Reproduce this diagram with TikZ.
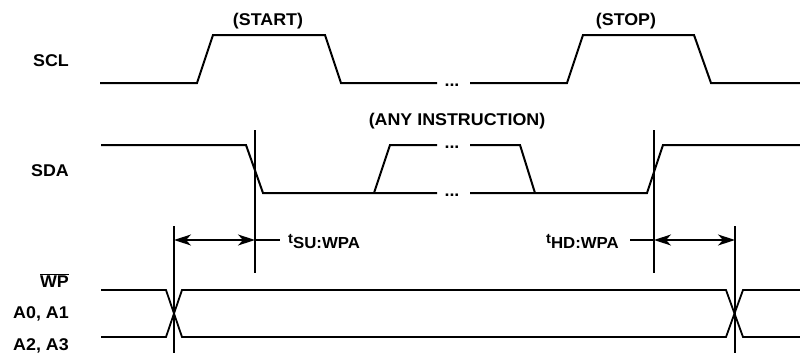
\documentclass[tikz,border=0pt]{standalone}
\usepackage{fontspec}
\setmainfont{Liberation Sans}
\newfontfamily\WideFont[FakeStretch=1.05]{Liberation Sans}
\usetikzlibrary{arrows.meta}
\newcommand{\Tip}{Stealth[length=17pt,width=11pt,inset=5pt]}
\newcommand{\Sub}[2]{{\fontsize{14}{14}\selectfont t}\raisebox{-5pt}{\fontsize{16}{16}\selectfont #1:#2}}
\tikzset{Signal/.style={
    line width=2pt,
    line join=miter,
    },
  Marker/.style={
    line width=1.3pt,
    },
  Dim/.style={
    line width=1.3pt,
    \Tip-\Tip,
    },
  Label/.style={
    inner sep=0pt,
    font=\WideFont\bfseries\fontsize{17}{20}\selectfont,
    },
}
\begin{document}
\begin{tikzpicture}[x=1pt,y=-1pt]
    \useasboundingbox (0,0) rectangle (800,356);
    % signal names
    \node [Label,anchor=base east] (scl) at (69,66) {SCL};
    \node [Label,anchor=base east] (sda) at (69,176) {SDA};
    \node [Label,anchor=base east] (wp) at (69,287) {$\overline{\hbox{WP}}$};
    \node [Label,anchor=base east] (a01) at (69,318) {A0, A1};
    \node [Label,anchor=base east] (a23) at (69,350) {A2, A3};
    \node [Label,anchor=base] (start) at (268,25) {(START)};
    \node [Label,anchor=base] (stop) at (626,25) {(STOP)};
    \node [Label,anchor=base] (anyinstr) at (457,125) {(ANY INSTRUCTION)};
    % SCL
    \draw [Signal] (100,83) -- (197,83) -- (213,35) -- (325,35) -- (341,83) -- (437,83);
    \draw [Signal] (470,83) -- (567,83) -- (583,35) -- (694,35) -- (711,83) -- (800,83);
    \node [Label,anchor=base] (sclDots) at (452,86) {...};
    % SDA
    \draw [Signal] (101,145) -- (246,145) -- (263,193) -- (437,193);
    \draw [Signal] (374,193) -- (390,145) -- (437,145);
    \draw [Signal] (470,145) -- (520,145) -- (535,193);
    \draw [Signal] (470,193) -- (647,193) -- (663,145) -- (800,145);
    \node [Label,anchor=base] (sdaDotsHi) at (452,148) {...};
    \node [Label,anchor=base] (sdaDotsLo) at (452,196) {...};
    % WP and address bus
    \draw [Signal,line width=1.8pt] (101,290) -- (166,290) -- (182,337) -- (726,337) -- (743,290) -- (800,290);
    \draw [Signal,line width=1.8pt] (101,337) -- (166,337) -- (182,290) -- (726,290) -- (743,337) -- (800,337);
    % timing markers
    \draw [Marker] (255,130) -- (255,273);
    \draw [Marker] (654,130) -- (654,273);
    \draw [Marker] (174,226) -- (174,353);
    \draw [Marker] (735,226) -- (735,353);
    \coordinate (suL) at (174,240); \coordinate (suR) at (255,240);
    \coordinate (hdL) at (654,240); \coordinate (hdR) at (735,240);
    \draw [Dim] (suL) -- (suR);
    \draw [Dim] (hdL) -- (hdR);
    \node [Label,anchor=base west] (tsu) at (288,243) {\Sub{SU}{WPA}};
    \node [Label,anchor=base east] (thd) at (619,243) {\Sub{HD}{WPA}};
    \draw [Marker] (suR) -- (280,240);
    \draw [Marker] (630,240) -- (hdL);
\end{tikzpicture}
\end{document}
